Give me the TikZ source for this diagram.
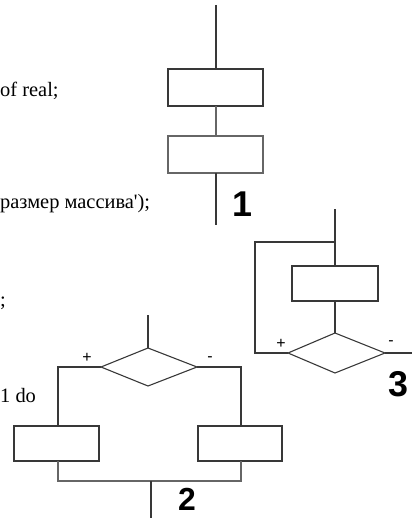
\documentclass[tikz,border=0pt]{standalone}
\usepackage{fontspec}
\setmainfont{Liberation Serif}
\newfontfamily\numfont{Liberation Sans}
\begin{document}
\begin{tikzpicture}[x=1bp,y=-1bp,
  ln/.style={draw=black!78,line width=1.1bp},
  lnl/.style={draw=black!60,line width=1.1bp},
  blk/.style={ln,fill=white,inner sep=0pt},
  txt/.style={font=\fontsize{20.5}{22}\selectfont,inner sep=0pt,anchor=base west},
  sgn/.style={font=\numfont\fontsize{16}{17}\selectfont,inner sep=0pt},
  num/.style={font=\numfont\bfseries\fontsize{36}{38}\selectfont,inner sep=0pt,anchor=base west}]
\useasboundingbox (0,0) rectangle (411,518);
% left-side text fragments
\node[txt] (t1) at (0,97) {of real;};
\node[txt] (t2) at (0,208) {размер массива\textquotesingle);};
\node[txt] (t3) at (0,306) {;};
\node[txt] (t4) at (0,402) {1 do};
% ---------- diagram 1 ----------
\coordinate (a0) at (216,5);
\draw[blk] (168,69) rectangle (263,106);
\coordinate (r1t) at (216,69);
\coordinate (r1b) at (216,106);
\draw[lnl,fill=white] (168,136) rectangle (263,173);
\coordinate (r2t) at (216,136);
\coordinate (r2b) at (216,173);
\coordinate (a1) at (216,225);
\draw[ln] (a0) -- (r1t);
\draw[lnl] (r1b) -- (r2t);
\draw[ln] (r2b) -- (a1);
\node[num] (n1) at (232,216) {1};
% ---------- diagram 3 ----------
\coordinate (c0) at (335,209);
\coordinate (c1) at (335,242);
\coordinate (c2) at (255,242);
\coordinate (c3) at (255,353);
\draw[blk] (292,266) rectangle (378,301);
\coordinate (r3t) at (335,266);
\coordinate (r3b) at (335,301);
\coordinate (d3t) at (335,333);
\coordinate (d3l) at (288,353);
\coordinate (d3r) at (385,353);
\coordinate (d3b) at (335,373);
\coordinate (c4) at (412,353);
\draw[ln] (d3t) -- (d3r) -- (d3b) -- (d3l) -- cycle;
\draw[ln] (c0) -- (r3t);
\draw[ln] (c1) -- (c2) -- (c3) -- (d3l);
\draw[ln] (r3b) -- (d3t);
\draw[ln] (d3r) -- (c4);
\node[sgn] (p3) at (281,344) {+};
\node[sgn] (m3) at (391,343) {-};
\node[num] (n3) at (388,396) {3};
% ---------- diagram 2 ----------
\coordinate (b0) at (148,315);
\coordinate (d2t) at (148,348);
\coordinate (d2l) at (101,367);
\coordinate (d2r) at (197,367);
\coordinate (d2b) at (148,386);
\draw[ln] (d2t) -- (d2r) -- (d2b) -- (d2l) -- cycle;
\draw[ln] (b0) -- (d2t);
\draw[blk] (14,426) rectangle (99,461);
\draw[blk] (198,426) rectangle (282,461);
\coordinate (l1) at (58,367);
\coordinate (l2) at (58,426);
\coordinate (r1) at (241,367);
\coordinate (r2) at (241,426);
\coordinate (l3) at (58,461);
\coordinate (l4) at (58,481);
\coordinate (r3) at (241,461);
\coordinate (r4) at (241,481);
\coordinate (m1) at (151,481);
\coordinate (m2) at (151,519);
\draw[ln] (d2l) -- (l1) -- (l2);
\draw[ln] (d2r) -- (r1) -- (r2);
\draw[lnl] (l3) -- (l4) -- (r4) -- (r3);
\draw[ln] (m1) -- (m2);
\node[sgn] (p2) at (87,358) {+};
\node[sgn] (m2s) at (210,359) {-};
\node[num,font=\numfont\bfseries\fontsize{32}{34}\selectfont] (n2) at (178,510) {2};
\end{tikzpicture}
\end{document}
